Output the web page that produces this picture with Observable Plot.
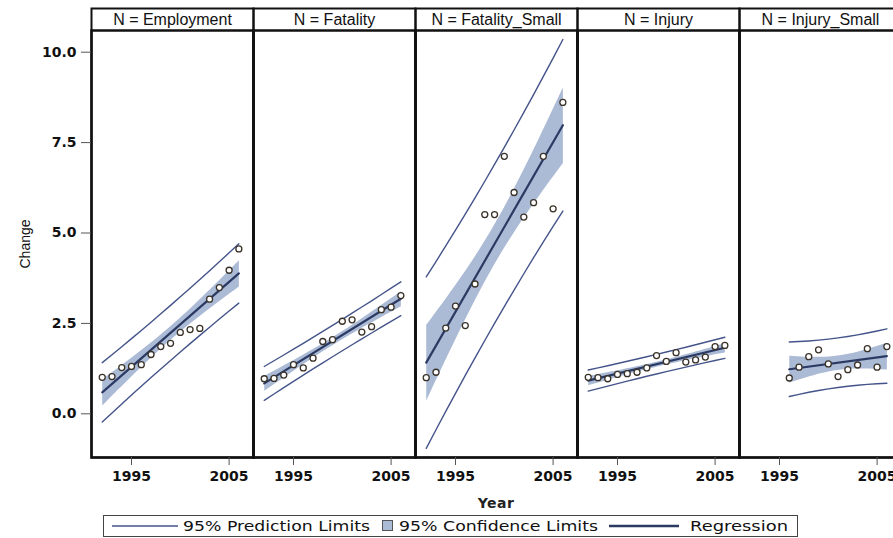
<!DOCTYPE html>
<html><head><meta charset="utf-8">
<script src="https://cdn.jsdelivr.net/npm/d3@7"></script>
<script src="https://cdn.jsdelivr.net/npm/@observablehq/plot@0.6"></script>
<style>
html,body{margin:0;padding:0;background:#fff;overflow:hidden;}
#wrap{position:relative;width:893px;height:538px;overflow:hidden;}
#plot{position:absolute;left:0;top:0;width:903px;}
#plot svg{max-width:none !important;}
#xlab{position:absolute;left:89px;width:814px;top:495px;text-align:center;font:bold 14px "DejaVu Sans",sans-serif;color:#222;letter-spacing:0.5px;}
#legend{position:absolute;left:0;top:512px;}
</style></head><body><div id="wrap"><div id="plot"></div><div id="xlab">Year</div><div id="legend"></div></div>
<script>
const panels = ["Employment", "Fatality", "Fatality_Small", "Injury", "Injury_Small"];
const years = [1992, 1993, 1994, 1995, 1996, 1997, 1998, 1999, 2000, 2001, 2002, 2003, 2004, 2005, 2006];
const yearsInjurySmall = [1996, 1997, 1998, 1999, 2000, 2001, 2002, 2003, 2004, 2005, 2006];
const employment    = [1.01, 1.03, 1.28, 1.31, 1.36, 1.64, 1.86, 1.95, 2.25, 2.33, 2.36, 3.17, 3.49, 3.97, 4.56];
const fatality      = [0.97, 0.98, 1.07, 1.36, 1.27, 1.54, 2.00, 2.05, 2.56, 2.60, 2.26, 2.41, 2.88, 2.95, 3.27];
const fatalitySmall = [1.00, 1.15, 2.37, 2.98, 2.44, 3.59, 5.51, 5.51, 7.12, 6.12, 5.44, 5.84, 7.12, 5.67, 8.61];
const injury        = [1.01, 1.00, 0.97, 1.09, 1.11, 1.15, 1.27, 1.61, 1.45, 1.69, 1.43, 1.49, 1.57, 1.86, 1.89];
const injurySmall   = [0.99, 1.29, 1.58, 1.77, 1.38, 1.03, 1.22, 1.35, 1.80, 1.29, 1.86];
const yTicks = [0, 2.5, 5, 7.5, 10];
const xTicks = [1995, 2005];
const legendLabels = ["95% Prediction Limits", "95% Confidence Limits", "Regression"];
const T975 = {9: 2.2622, 13: 2.1604}; // Student t quantiles (0.975)

const series = [
  [panels[0], years, employment],
  [panels[1], years, fatality],
  [panels[2], years, fatalitySmall],
  [panels[3], years, injury],
  [panels[4], yearsInjurySmall, injurySmall]
];
const data = series.flatMap(([p, xs, ys]) => xs.map((x, i) => ({panel: p, year: x, change: ys[i]})));

// prediction limits from OLS fit of each panel
const pi = series.flatMap(([p, xs, ys]) => {
  const n = xs.length, mx = d3.mean(xs), my = d3.mean(ys);
  const sxx = d3.sum(xs, x => (x - mx) ** 2);
  const sxy = d3.sum(xs, (x, i) => (x - mx) * (ys[i] - my));
  const b = sxy / sxx, a = my - b * mx;
  const s = Math.sqrt(d3.sum(xs, (x, i) => (ys[i] - a - b * x) ** 2) / (n - 2));
  const t = T975[n - 2];
  return xs.map(x => {
    const f = a + b * x, h = t * s * Math.sqrt(1 + 1 / n + (x - mx) ** 2 / sxx);
    return {panel: p, year: x, lo: f - h, hi: f + h};
  });
});

const bandColor = "#abbad5", regColor = "#2b3a63", piColor = "#44548a";

const chart = Plot.plot({
  width: 903, height: 512,
  marginLeft: 89, marginRight: 0, marginTop: 30, marginBottom: 55,
  style: {fontFamily: "DejaVu Sans, sans-serif", background: "white", color: "#111", maxWidth: "none"},
  fx: {domain: panels, padding: 0, axis: null},
  x: {domain: [1990.9, 2007.5]},
  y: {domain: [-1.208, 10.6]},
  marks: [
    Plot.linearRegressionY(data, {fx: "panel", x: "year", y: "change", ci: 0.95, stroke: regColor, strokeWidth: 2.2, fill: bandColor, fillOpacity: 1}),
    Plot.line(pi, {fx: "panel", x: "year", y: "lo", stroke: piColor, strokeWidth: 1.4}),
    Plot.line(pi, {fx: "panel", x: "year", y: "hi", stroke: piColor, strokeWidth: 1.4}),
    Plot.dot(data, {fx: "panel", x: "year", y: "change", r: 3, stroke: "#3a3228", strokeWidth: 1.3, fill: "white"}),
    Plot.frame({stroke: "#111", strokeWidth: 2.5}),
    Plot.frame({insetTop: -22, stroke: "#111", strokeWidth: 2}),
    Plot.text(panels, {fx: d => d, frameAnchor: "top", dy: -11, lineAnchor: "middle", text: d => "N = " + d,
      fontFamily: "Liberation Sans, Arial, sans-serif", fontSize: 16, fill: "#111"}),
    Plot.axisY({ticks: yTicks, tickFormat: d3.format(".1f"), tickSize: 10, tickPadding: 5, stroke: "#555",
      fontSize: 14, fontWeight: "bold", label: "Change", labelAnchor: "center", labelOffset: 71, labelArrow: false}),
    Plot.axisX({ticks: xTicks, tickFormat: "d", tickSize: 8, tickPadding: 6, stroke: "#555",
      fontSize: 14, fontWeight: "bold", label: null})
  ]
});
document.getElementById("plot").appendChild(chart);
d3.select(chart).selectAll('[aria-label="y-axis label"] text')
  .attr("font-family", "Liberation Sans, Arial, sans-serif")
  .attr("font-weight", "normal").attr("font-size", 14);

// legend
const lg = d3.select("#legend").append("svg").attr("width", 893).attr("height", 26)
  .style("font-family", "DejaVu Sans, sans-serif");
lg.append("rect").attr("x", 103.5).attr("y", 3.5).attr("width", 694).attr("height", 21)
  .attr("fill", "white").attr("stroke", "#444").attr("stroke-width", 1);
const cy = 14;
lg.append("line").attr("x1", 112).attr("x2", 178).attr("y1", cy).attr("y2", cy).attr("stroke", piColor).attr("stroke-width", 1.4);
lg.append("text").attr("x", 183).attr("y", cy).attr("dy", "0.36em").attr("font-size", 14).attr("fill", "#111")
  .attr("textLength", 187).attr("lengthAdjust", "spacingAndGlyphs").text(legendLabels[0]);
lg.append("rect").attr("x", 382.5).attr("y", cy - 5.5).attr("width", 10).attr("height", 10)
  .attr("fill", bandColor).attr("stroke", "#555").attr("stroke-width", 1);
lg.append("text").attr("x", 399).attr("y", cy).attr("dy", "0.36em").attr("font-size", 14).attr("fill", "#111")
  .attr("textLength", 199).attr("lengthAdjust", "spacingAndGlyphs").text(legendLabels[1]);
lg.append("line").attr("x1", 609).attr("x2", 679).attr("y1", cy).attr("y2", cy).attr("stroke", regColor).attr("stroke-width", 2.4);
lg.append("text").attr("x", 690).attr("y", cy).attr("dy", "0.36em").attr("font-size", 14).attr("fill", "#111")
  .attr("textLength", 98).attr("lengthAdjust", "spacingAndGlyphs").text(legendLabels[2]);
</script></body></html>
